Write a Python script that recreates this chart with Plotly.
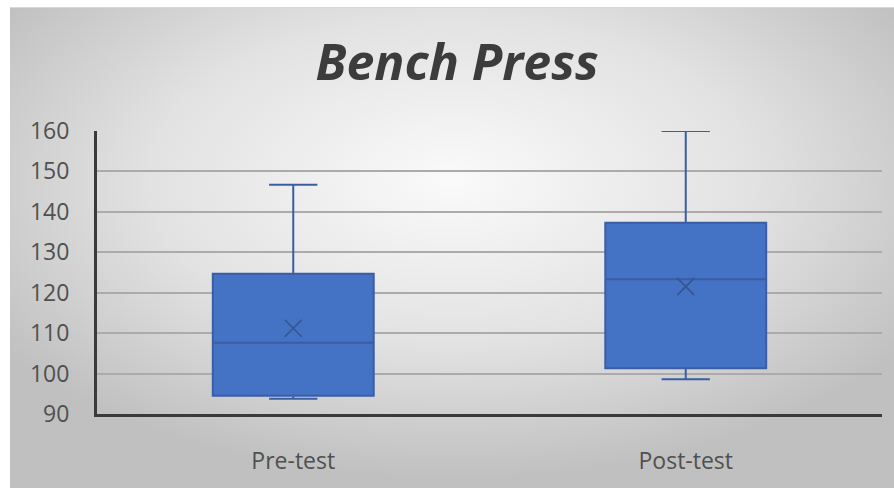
import base64
import plotly.graph_objects as go

# Bench press results (lbs) summarised per test session
categories = ["Pre-test", "Post-test"]
lower_whisker = [93.8, 98.6]
q1_values = [94.5, 101.3]
median_values = [107.6, 123.3]
q3_values = [124.7, 137.3]
upper_whisker = [146.7, 160.0]
mean_values = [111.2, 121.5]
y_ticks = [90, 100, 110, 120, 130, 140, 150, 160]

W, H = 894, 488
M_L, M_R, M_T, M_B = 97, 12, 131, 74
plot_w = W - M_L - M_R
plot_h = H - M_T - M_B

# soft radial backdrop for the chart area
svg = (
    '<svg xmlns="http://www.w3.org/2000/svg" width="884" height="481" '
    'preserveAspectRatio="none" viewBox="0 0 884 481">'
    '<defs><radialGradient id="g" cx="50%" cy="36%" r="62%">'
    '<stop offset="0" stop-color="#fafafa"/>'
    '<stop offset="0.55" stop-color="#e2e2e2"/>'
    '<stop offset="1" stop-color="#c0c0c0"/>'
    '</radialGradient></defs>'
    '<rect x="0" y="0" width="884" height="481" fill="url(#g)"/></svg>'
)
bg_src = "data:image/svg+xml;base64," + base64.b64encode(svg.encode()).decode()


def px_to_paper_x(px):
    return (px - M_L) / plot_w


def px_to_paper_y(py):
    return (H - M_B - py) / plot_h


fig = go.Figure()

fig.add_trace(go.Box(
    x=categories,
    q1=q1_values,
    median=median_values,
    q3=q3_values,
    lowerfence=lower_whisker,
    upperfence=upper_whisker,
    boxpoints=False,
    width=0.41,
    whiskerwidth=0.3,
    fillcolor="#4472C4",
    line=dict(color="#3A5DA3", width=2),
    hoverinfo="skip",
    showlegend=False,
))

fig.add_trace(go.Scatter(
    x=categories,
    y=mean_values,
    mode="markers",
    marker=dict(symbol="x-thin-open", size=17, color="#34558F",
                line=dict(color="#34558F", width=1.6)),
    hoverinfo="skip",
    showlegend=False,
))

fig.update_layout(
    width=W,
    height=H,
    margin=dict(l=M_L, r=M_R, t=M_T, b=M_B),
    paper_bgcolor="white",
    plot_bgcolor="rgba(0,0,0,0)",
    font=dict(family="Open Sans", color="#555555"),
    title=dict(
        text="<b><i>Bench Press</i></b>",
        font=dict(family="Open Sans", size=50, color="#3c3c3c"),
        x=px_to_paper_x(457), xref="paper",
        y=1 - 62 / H, yref="container",
        xanchor="center", yanchor="middle",
    ),
    images=[dict(
        source=bg_src,
        xref="paper", yref="paper",
        x=px_to_paper_x(10), y=px_to_paper_y(7),
        sizex=(W - 10) / plot_w, sizey=(H - 7) / plot_h,
        xanchor="left", yanchor="top",
        sizing="stretch", layer="below",
    )],
    shapes=[dict(
        type="line", xref="paper", yref="paper",
        x0=px_to_paper_x(10), x1=px_to_paper_x(W),
        y0=px_to_paper_y(7.5), y1=px_to_paper_y(7.5),
        line=dict(color="#d9d9d9", width=1),
    )],
    xaxis=dict(
        type="category",
        range=[-0.5, 1.5],
        showline=True, linecolor="#3a3a3a", linewidth=3,
        showgrid=False, zeroline=False,
        ticks="", ticklabelstandoff=24,
        tickfont=dict(family="Open Sans", size=23, color="#505050"),
        fixedrange=True,
    ),
    yaxis=dict(
        range=[90, 160],
        tickvals=y_ticks,
        showline=True, linecolor="#3a3a3a", linewidth=3,
        showgrid=True, gridcolor="#ababab", gridwidth=1.5,
        zeroline=False,
        ticks="", ticklabelstandoff=20,
        tickfont=dict(family="Open Sans", size=23, color="#505050"),
        fixedrange=True,
    ),
)

fig.write_html("out.html")
